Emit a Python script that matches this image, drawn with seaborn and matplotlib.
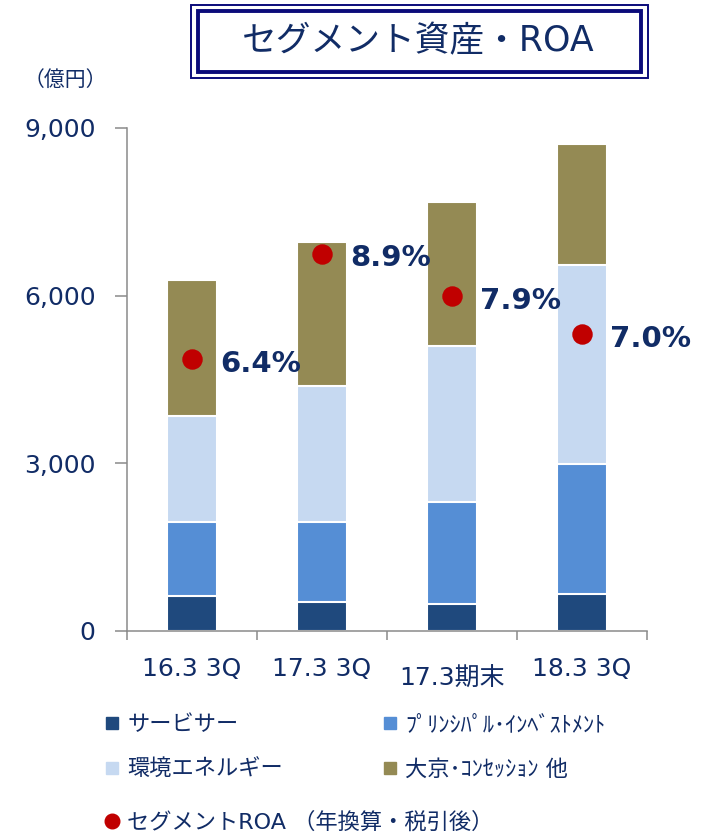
import numpy as np
import pandas as pd
import matplotlib
matplotlib.use('Agg')
import matplotlib.pyplot as plt
import matplotlib.transforms as mtransforms
import seaborn as sns
from matplotlib.lines import Line2D
from matplotlib.patches import Rectangle

# ---- data ----
categories = ['16.3 3Q', '17.3 3Q', '17.3期末', '18.3 3Q']
servicer = [630, 520, 490, 670]
principal = [1320, 1430, 1820, 2310]
environment = [1900, 2430, 2790, 3570]
daikyo = [2430, 2580, 2580, 2160]
roa = [6.4, 8.9, 7.9, 7.0]
roa_labels = ['6.4%', '8.9%', '7.9%', '7.0%']
segment_names = ['サービサー', 'ﾌﾟﾘﾝｼﾊﾟﾙ･ｲﾝﾍﾞｽﾄﾒﾝﾄ', '環境エネルギー', '大京･ｺﾝｾｯｼｮﾝ 他']
roa_name = 'セグメントROA （年換算・税引後）'
yticks = [0, 3000, 6000, 9000]
ytick_labels = ['0', '3,000', '6,000', '9,000']
title = 'セグメント資産・ROA'
unit = '（億円）'

# ---- styles ----
colors = ['#1F497D', '#558ED5', '#C6D9F1', '#948A54']
red = '#C00000'
navy = '#112C66'
box_navy = '#0B0B7A'
gray = '#8A8A8A'

sns.set_theme(style='white')
plt.rcParams['font.family'] = ['DejaVu Sans', 'Noto Sans CJK JP']

W, H = 705, 835
fig = plt.figure(figsize=(W / 100, H / 100), dpi=100)
ax = fig.add_axes([127 / W, 1 - 631 / H, 520 / W, 503 / H])

segments = [servicer, principal, environment, daikyo]
cum = np.cumsum(np.array(segments), axis=0)
for i in range(3, -1, -1):
    df = pd.DataFrame({'cat': categories, 'val': cum[i]})
    sns.barplot(data=df, x='cat', y='val', color=colors[i], saturation=1,
                width=0.39, edgecolor='white', linewidth=1.5, ax=ax)

ax.set_ylim(0, 9000)
ax.set_xlim(-0.5, 3.5)
ax.set_xlabel('')
ax.set_ylabel('')
ax.set_yticks(yticks, ytick_labels)
ax.set_xticks(range(len(categories)), categories)
ax.set_xticks(np.arange(len(categories) + 1) - 0.5, minor=True)
ax.tick_params(axis='x', which='major', length=0, pad=19, labelsize=18,
               labelcolor=navy, bottom=True)
ax.tick_params(axis='x', which='minor', length=6.5, width=1.1, color=gray,
               direction='out', bottom=True)
ax.tick_params(axis='y', length=8.6, width=1.1, color=gray, direction='out',
               pad=14, labelsize=18, labelcolor=navy, left=True)
for s in ['top', 'right']:
    ax.spines[s].set_visible(False)
for s in ['left', 'bottom']:
    ax.spines[s].set_color(gray)
    ax.spines[s].set_linewidth(1.1)
    ax.spines[s].set_zorder(5)
# the label set in the CJK font sits a little lower in the reference
for lbl in ax.get_xticklabels():
    if '期' in lbl.get_text():
        lbl.set_transform(mtransforms.offset_copy(lbl.get_transform(), fig=fig,
                                                  x=0, y=-9, units='dots'))

# ROA points on secondary scale
ax2 = ax.twinx()
sns.pointplot(x=categories, y=roa, ax=ax2, color=red, linestyle='none',
              marker='o', markersize=12.7, errorbar=None)
ax2.set_ylim(-0.03, 11.87)
ax2.set_xlim(-0.5, 3.5)
ax2.axis('off')
for i, (r, lab) in enumerate(zip(roa, roa_labels)):
    ax2.annotate(lab, (i, r), xytext=(20, -3.5), textcoords='offset points',
                 ha='left', va='center', fontsize=21, fontweight='bold',
                 color=navy)

# unit label
fig.text(65 / W, 1 - 80 / H, unit, ha='center', va='center', fontsize=15,
         color=navy)

# title with double border
fig.patches.append(Rectangle((191 / W, 1 - 78 / H), 457 / W, 73 / H,
                             transform=fig.transFigure, fill=False,
                             edgecolor=box_navy, linewidth=1.4))
fig.patches.append(Rectangle((198 / W, 1 - 71.5 / H), 443 / W, 60 / H,
                             transform=fig.transFigure, fill=False,
                             edgecolor=box_navy, linewidth=2.8))
fig.text(418 / W, 1 - 41 / H, title, ha='center', va='center', fontsize=25,
         color=navy)

# legends
handles = [Line2D([], [], marker='s', linestyle='none', markersize=9.3,
                  markerfacecolor=c, markeredgecolor=c) for c in colors]
order = [0, 2, 1, 3]
fig.legend([handles[k] for k in order], [segment_names[k] for k in order],
           ncol=2, loc='center left', bbox_to_anchor=(104 / W, 1 - 747.5 / H),
           frameon=False, fontsize=16, labelcolor=navy, handlelength=0.7,
           handletextpad=0.35, columnspacing=4.45, labelspacing=1.1,
           borderpad=0, borderaxespad=0)
roa_handle = Line2D([], [], marker='o', linestyle='none', markersize=10.5,
                    markerfacecolor=red, markeredgecolor=red)
fig.legend([roa_handle], [roa_name], loc='center left',
           bbox_to_anchor=(104 / W, 1 - 822 / H), frameon=False, fontsize=16,
           labelcolor=navy, handlelength=0.7, handletextpad=0.35,
           borderpad=0, borderaxespad=0)

fig.savefig('out.png', dpi=100)
